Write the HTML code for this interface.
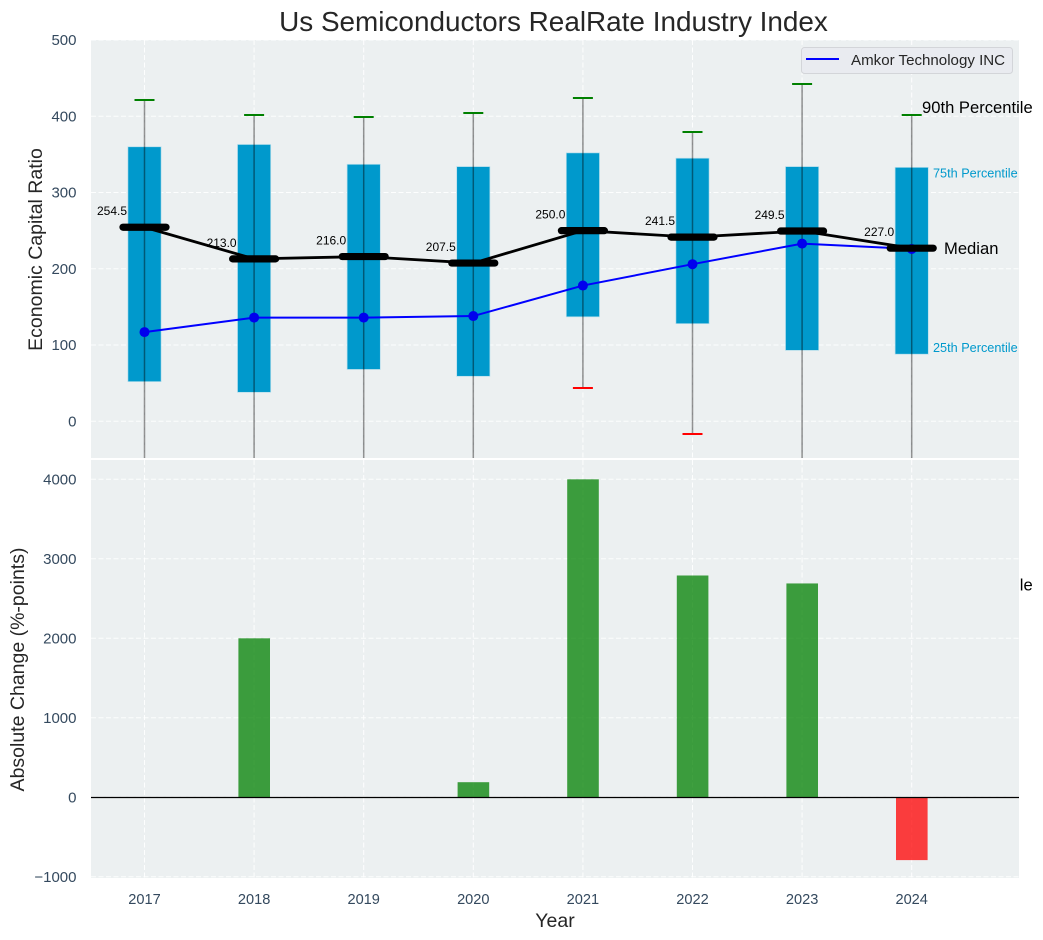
<!DOCTYPE html>
<html>
<head>
<meta charset="utf-8">
<title>Us Semiconductors RealRate Industry Index</title>
<style>
html,body{margin:0;padding:0;background:#fff;}
svg{display:block;font-family:"Liberation Sans",Arial,sans-serif;}
</style>
</head>
<body>
<svg id="chart" xmlns="http://www.w3.org/2000/svg" width="1043" height="940" viewBox="0 0 1043 940">
<defs><clipPath id="top-clip"><rect x="91" y="40" width="928" height="418"></rect></clipPath></defs>
</svg>
<script>
const years = [2017, 2018, 2019, 2020, 2021, 2022, 2023, 2024];
const p90 = [421, 402, 399, 404, 424, 380, 442, 402];
const p75 = [360, 363, 337, 334, 352, 345, 334, 333];
const median = [254.5, 213, 216, 207.5, 250, 241.5, 249.5, 227];
const p25 = [52, 38, 68, 59, 137, 128, 93, 88];
const p10 = [-180, -210, -190, -200, 44, -17, -190, -225];
const amkor = [117, 136, 136, 138, 178, 206, 233, 226];
const changes = [0, 2000, 0, 190, 4000, 2790, 2690, -790];
const topTicks = [0, 100, 200, 300, 400, 500];
const bottomTicks = [-1000, 0, 1000, 2000, 3000, 4000];

const NS = 'http://www.w3.org/2000/svg';
const svg = document.getElementById('chart');
const L = 91, R = 1019, TT = 40, TB = 458, BT = 460, BB = 878;
function x(year) { return 144.5 + (year - 2017) * 109.6; }
function yTop(v) { return 421.3 - v * 0.7626; }
function yBot(v) { return 797.3 - v * 0.0795; }
function make(tag, attrs, parent) {
  const e = document.createElementNS(NS, tag);
  for (const k in attrs) e.setAttribute(k, attrs[k]);
  (parent || svg).appendChild(e);
  return e;
}
function group(parent) { return make('g', {}, parent); }
function label(txt, attrs, parent) {
  const e = make('text', attrs, parent);
  e.textContent = txt;
  return e;
}
const GRID = {stroke: '#ffffff', 'stroke-width': 1, 'stroke-dasharray': '5 2.5', 'stroke-opacity': 0.9};

/* ---------- top panel ---------- */
const topPanel = group();


const topBg = make('rect', {x: L, y: TT, width: R - L, height: TB - TT, fill: '#ecf0f1'}, topPanel);



topTicks.forEach(t => {
  const g = make('line', Object.assign({x1: L, x2: R, y1: yTop(t), y2: yTop(t)}, GRID), topPanel);
  
  
  const tl = label(String(t), {x: 76.5, y: yTop(t) + 5, 'text-anchor': 'end', 'font-size': 15, fill: '#34495e'}, topPanel);
  
  
});
years.forEach(yr => {
  const g = make('line', Object.assign({x1: x(yr), x2: x(yr), y1: TT, y2: TB}, GRID), topPanel);
  
  
});

const clipped = make('g', {'clip-path': 'url(#top-clip)'}, topPanel);



years.forEach((yr, i) => {
  const b = make('rect', {x: x(yr) - 16.6, y: yTop(p75[i]), width: 33.2, height: yTop(p25[i]) - yTop(p75[i]), fill: '#0099cc', stroke: '#b5deec', 'stroke-width': 0.7}, clipped);
  
  
});
years.forEach((yr, i) => {
  const w = make('line', {x1: x(yr), x2: x(yr), y1: yTop(p90[i]), y2: yTop(p10[i]), stroke: '#000', 'stroke-opacity': 0.42, 'stroke-width': 1.5}, clipped);
  
  
  const c1 = make('line', {x1: x(yr) - 10, x2: x(yr) + 10, y1: Math.round(yTop(p90[i])), y2: Math.round(yTop(p90[i])), stroke: '#008000', 'stroke-width': 2}, clipped);
  
  
  const c2 = make('line', {x1: x(yr) - 10, x2: x(yr) + 10, y1: Math.round(yTop(p10[i])), y2: Math.round(yTop(p10[i])), stroke: '#ff0000', 'stroke-width': 2}, clipped);
  
  
});

const amkorLine = make('polyline', {points: years.map((yr, i) => x(yr) + ',' + yTop(amkor[i])).join(' '), fill: 'none', stroke: '#0000ff', 'stroke-width': 2}, clipped);


years.forEach((yr, i) => {
  const p = make('circle', {cx: x(yr), cy: yTop(amkor[i]), r: 5, fill: '#0000ee'}, clipped);
  
  
});

years.forEach((yr, i) => {
  const ml = label(median[i].toFixed(1), {x: x(yr) - 17.5, y: yTop(median[i]) - 12, 'text-anchor': 'end', 'font-size': 12, fill: '#000'}, clipped);
  
  
});
const medianLine = make('polyline', {points: years.map((yr, i) => x(yr) + ',' + yTop(median[i])).join(' '), fill: 'none', stroke: '#000', 'stroke-width': 2.8}, clipped);


years.forEach((yr, i) => {
  const m = make('line', {x1: x(yr) - 21.5, x2: x(yr) + 21.5, y1: yTop(median[i]), y2: yTop(median[i]), stroke: '#000', 'stroke-width': 7.2, 'stroke-linecap': 'round'}, clipped);
  
  
});

/* legend */
const legend = group(topPanel);


const legendBox = make('rect', {x: 801.5, y: 47.5, width: 211, height: 26, rx: 3, fill: '#e9ebf0', stroke: '#d3d5d9', 'stroke-width': 1}, legend);


const legendSwatch = make('line', {x1: 806, x2: 839, y1: 59, y2: 59, stroke: '#0000ff', 'stroke-width': 2}, legend);


const legendText = label('Amkor Technology INC', {x: 851, y: 65, 'font-size': 15.1, fill: '#262626'}, legend);



/* percentile annotations, anchored to the last year */
const last = years.length - 1;
const a90 = label('90th Percentile', {x: 922, y: yTop(p90[last]) - 1.5, 'font-size': 16.6, fill: '#000'}, topPanel);


const a75 = label('75th Percentile', {x: 933, y: yTop(p75[last]) + 10, 'font-size': 12.7, fill: '#0099cc'}, topPanel);


const aMed = label('Median', {x: 944, y: yTop(median[last]) + 6, 'font-size': 16.6, fill: '#000'}, topPanel);


const a25 = label('25th Percentile', {x: 933, y: yTop(p25[last]) - 2, 'font-size': 12.7, fill: '#0099cc'}, topPanel);


const a10 = label('10th Percentile', {x: 922, y: yTop(p10[last]) - 2.5, 'font-size': 16.6, fill: '#000'}, topPanel);



const topYTitle = label('Economic Capital Ratio', {x: 0, y: 0, transform: 'translate(42,249.5) rotate(-90)', 'text-anchor': 'middle', 'font-size': 19.5, fill: '#262626'}, topPanel);



/* ---------- bottom panel ---------- */
const botPanel = group();


const botBg = make('rect', {x: L, y: BT, width: R - L, height: BB - BT, fill: '#ecf0f1'}, botPanel);



bottomTicks.forEach(t => {
  const g = make('line', Object.assign({x1: L, x2: R, y1: yBot(t), y2: yBot(t)}, GRID), botPanel);
  
  
  const tl = label(String(t).replace('-', '\u2212'), {x: 76.5, y: yBot(t) + 5, 'text-anchor': 'end', 'font-size': 15, fill: '#34495e'}, botPanel);
  
  
});
years.forEach(yr => {
  const g = make('line', Object.assign({x1: x(yr), x2: x(yr), y1: BT, y2: BB}, GRID), botPanel);
  
  
  const tl = label(String(yr), {x: x(yr), y: 904, 'text-anchor': 'middle', 'font-size': 14.6, fill: '#34495e'}, botPanel);
  
  
});
years.forEach((yr, i) => {
  const v = changes[i];
  const top = Math.min(yBot(v), yBot(0));
  const b = make('rect', {x: x(yr) - 15.7, y: top, width: 31.6, height: Math.abs(yBot(v) - yBot(0)), fill: v >= 0 ? '#008000' : '#ff0000', 'fill-opacity': 0.75}, botPanel);
  
  
});
const zeroLine = make('line', {x1: L, x2: R, y1: Math.floor(yBot(0)) + 0.5, y2: Math.floor(yBot(0)) + 0.5, stroke: '#000', 'stroke-width': 1.2}, botPanel);



const botYTitle = label('Absolute Change (%-points)', {x: 0, y: 0, transform: 'translate(24,669.5) rotate(-90)', 'text-anchor': 'middle', 'font-size': 19.5, fill: '#262626'}, botPanel);


const xTitle = label('Year', {x: 555, y: 927, 'text-anchor': 'middle', 'font-size': 19.5, fill: '#262626'}, botPanel);



const title = label('Us Semiconductors RealRate Industry Index', {x: 553.5, y: 31, 'text-anchor': 'middle', 'font-size': 27.9, fill: '#262626'});


</script>
</body>
</html>
